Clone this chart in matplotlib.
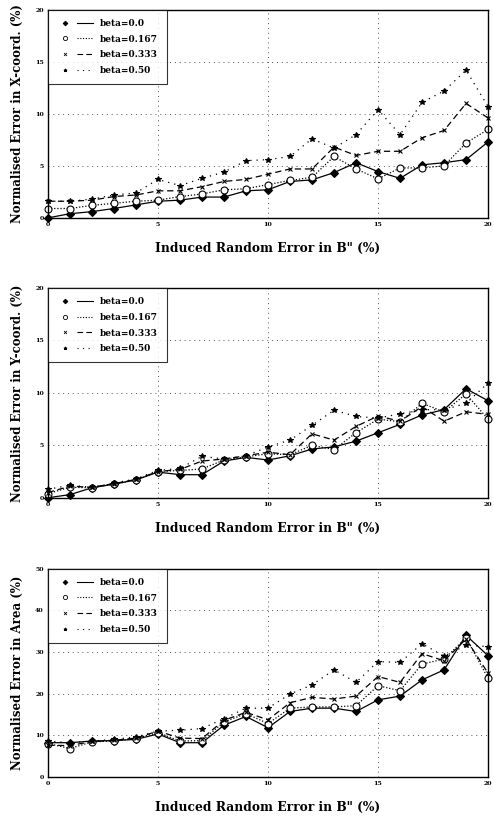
import matplotlib
matplotlib.use("Agg")
import matplotlib.pyplot as plt
from matplotlib.lines import Line2D
from matplotlib.legend_handler import HandlerTuple

# induced random error in B'' (%)
err = list(range(21))

# Normalised error in X-coord (%)
xc_b0 = [0, 0.4, 0.6, 0.9, 1.25, 1.6, 1.7, 2.0, 2.0, 2.6, 2.7, 3.5, 3.65, 4.35, 5.3, 4.45, 3.8, 5.1, 5.3, 5.6, 7.3]
xc_b167 = [0.9, 0.9, 1.2, 1.4, 1.6, 1.7, 2.05, 2.3, 2.7, 2.8, 3.2, 3.6, 3.9, 5.9, 4.7, 3.75, 4.8, 4.8, 5.0, 7.2, 8.5]
xc_b333 = [1.6, 1.6, 1.7, 2.05, 2.2, 2.6, 2.6, 3.0, 3.5, 3.7, 4.2, 4.7, 4.7, 6.8, 6.0, 6.4, 6.4, 7.7, 8.4, 11.0, 9.6]
xc_b50 = [1.6, 1.6, 1.8, 2.2, 2.4, 3.7, 3.1, 3.8, 4.4, 5.5, 5.6, 5.9, 7.6, 6.7, 8.0, 10.4, 8.0, 11.1, 12.2, 14.2, 10.7]

# Normalised error in Y-coord (%)
yc_b0 = [0, 0.3, 0.95, 1.3, 1.7, 2.45, 2.2, 2.2, 3.5, 3.85, 3.6, 4.0, 4.65, 4.85, 5.4, 6.2, 7.0, 7.9, 8.4, 10.4, 9.25]
yc_b167 = [0.4, 1.0, 0.95, 1.3, 1.7, 2.5, 2.6, 2.75, 3.6, 3.9, 4.2, 4.1, 5.0, 4.6, 6.2, 7.5, 7.25, 9.0, 8.2, 9.9, 7.5]
yc_b333 = [0.5, 1.1, 1.0, 1.35, 1.75, 2.5, 2.7, 3.5, 3.7, 4.0, 4.35, 4.1, 6.1, 5.5, 6.8, 7.8, 7.3, 8.7, 7.3, 8.2, 7.95]
yc_b50 = [0.8, 1.2, 1.0, 1.4, 1.8, 2.6, 2.8, 3.95, 3.7, 4.0, 4.85, 5.5, 6.9, 8.35, 7.75, 7.6, 8.0, 8.4, 8.4, 9.0, 10.95]

# Normalised error in Area (%)
ar_b0 = [8.2, 8.2, 8.6, 8.7, 9.0, 10.3, 8.2, 8.2, 12.4, 14.5, 11.8, 15.7, 16.5, 16.5, 15.7, 18.5, 19.4, 23.3, 25.7, 34.0, 29.1]
ar_b167 = [8.0, 6.8, 8.4, 8.6, 9.2, 10.6, 8.6, 8.7, 13.2, 15.2, 12.8, 16.5, 16.8, 16.8, 17.1, 21.9, 20.7, 27.1, 28.3, 33.4, 23.7]
ar_b333 = [7.6, 7.5, 8.5, 8.8, 9.3, 11.0, 9.3, 9.2, 13.6, 15.5, 13.7, 17.8, 19.1, 18.7, 19.4, 24.1, 22.7, 29.6, 27.9, 33.1, 24.9]
ar_b50 = [8.6, 8.2, 8.6, 9.0, 9.6, 11.0, 11.2, 11.6, 14.0, 16.5, 16.5, 19.9, 22.1, 25.7, 22.7, 27.7, 27.5, 32.0, 29.0, 31.6, 31.3]

labels = ["beta=0.0", "beta=0.167", "beta=0.333", "beta=0.50"]
ylabels = ["Normalised Error in X-coord. (%)",
           "Normalised Error in Y-coord. (%)",
           "Normalised Error in Area (%)"]
xlabel = "Induced Random Error in B\" (%)"

styles = [
    dict(marker="D", ms=4, mfc="black", ls="-"),
    dict(marker="o", ms=5, mfc="white", ls=(0, (1, 1.5))),
    dict(marker="x", ms=3.5, mfc="black", ls=(0, (5, 3))),
    dict(marker="*", ms=4, mfc="black", ls=(0, (1, 4))),
]

panels = [
    ([xc_b0, xc_b167, xc_b333, xc_b50], 20, [0, 5, 10, 15, 20]),
    ([yc_b0, yc_b167, yc_b333, yc_b50], 20, [0, 5, 10, 15, 20]),
    ([ar_b0, ar_b167, ar_b333, ar_b50], 50, [0, 10, 20, 30, 40, 50]),
]

plt.rcParams["font.family"] = "DejaVu Serif"
plt.rcParams["font.weight"] = "bold"

fig = plt.figure(figsize=(4.94, 8.16), dpi=100)
rects = [[0.097, 0.733, 0.891, 0.255],
         [0.097, 0.390, 0.891, 0.257],
         [0.097, 0.048, 0.891, 0.255]]

for rect, (series, ymax, yt), ylab in zip(rects, panels, ylabels):
    ax = fig.add_axes(rect)
    for s, st in zip(series, styles):
        ax.plot(err, s, color="black", lw=0.9, marker=st["marker"], ms=st["ms"],
                mfc=st["mfc"], mec="black", mew=0.8, ls=st["ls"], clip_on=False)
    ax.set_xlim(0, 20)
    ax.set_ylim(0, ymax)
    ax.set_xticks([0, 5, 10, 15, 20])
    ax.set_yticks(yt)
    ax.tick_params(labelsize=4.5, length=0, pad=3)
    for t in ax.get_xticklabels() + ax.get_yticklabels():
        t.set_fontweight("bold")
    ax.grid(True, color="#555555", ls=(0, (1, 4)), lw=0.7)
    for sp in ax.spines.values():
        sp.set_linewidth(1.0)
    ax.set_xlabel(xlabel, fontsize=8.8, fontweight="bold", labelpad=11)
    ax.set_ylabel(ylab, fontsize=8.5, fontweight="bold", labelpad=8)

    handles = []
    for st in styles:
        mk = Line2D([], [], color="black", marker=st["marker"], ms=st["ms"] * 0.6,
                    mfc=st["mfc"], mec="black", mew=0.6, ls="none")
        ln = Line2D([], [], color="black", lw=0.8, ls=st["ls"])
        handles.append((mk, ln))
    leg = ax.legend(handles, labels, loc="upper left",
                    handler_map={tuple: HandlerTuple(ndivide=None, pad=0.5)},
                    handlelength=4.0, frameon=True, fancybox=False,
                    borderaxespad=0, borderpad=1.0, labelspacing=0.75,
                    handletextpad=0.8, prop={"size": 6.5, "weight": "bold"})
    leg.get_frame().set_edgecolor("black")
    leg.get_frame().set_linewidth(0.8)

fig.savefig("out.png", dpi=100)
